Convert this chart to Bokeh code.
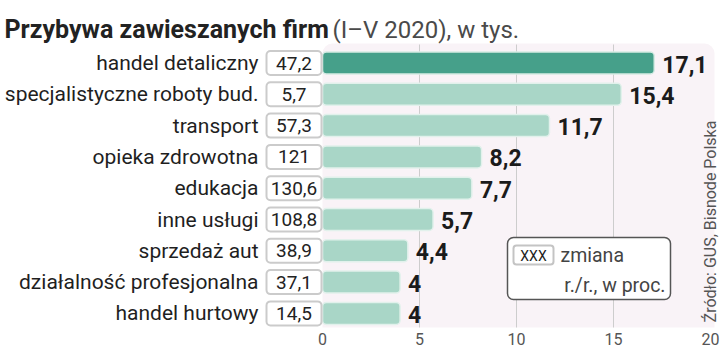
import math
from bokeh.plotting import figure
from bokeh.models import Range1d, FixedTicker
from bokeh.core.properties import value
from bokeh.embed import file_html
from bokeh.resources import INLINE

# ---- data ----
categories = ["handel detaliczny", "specjalistyczne roboty bud.", "transport",
              "opieka zdrowotna", "edukacja", "inne usługi", "sprzedaż aut",
              "działalność profesjonalna", "handel hurtowy"]
suspended_thousands = [17.1, 15.4, 11.7, 8.2, 7.7, 5.7, 4.4, 4, 4]
change_yoy_pct = [47.2, 5.7, 57.3, 121, 130.6, 108.8, 38.9, 37.1, 14.5]
tick_values = [0, 5, 10, 15, 20]
grid_values = [5, 10, 15]

title_bold = "Przybywa zawieszanych firm"
title_rest = "(I–V 2020), w tys."
source_text = "Źródło: GUS, Bisnode Polska"
legend_box_text = "XXX"
legend_line1 = "zmiana"
legend_line2 = "r./r., w proc."


def pl(v):
    return f"{v:g}".replace(".", ",")


# ---- geometry ----
W, H = 720, 360
PX_PER_UNIT = 19.4
ZERO_PX = 322.0
ROW_PX = 31.3
ROW0_PX = 62.5
FRAME_H = 327.0
AXIS_H = H - FRAME_H

x_start = -ZERO_PX / PX_PER_UNIT
x_end = x_start + W / PX_PER_UNIT
y_top = -ROW0_PX / ROW_PX
y_bottom = y_top + FRAME_H / ROW_PX


def ux(px):
    return x_start + px / PX_PER_UNIT


def uy(py):
    return y_top + py / ROW_PX


FONT = value("Roboto")

p = figure(width=W, height=H, x_range=Range1d(x_start, x_end),
           y_range=Range1d(y_bottom, y_top), output_backend="svg",
           toolbar_location=None, y_axis_location=None,
           min_border_left=0, min_border_right=0, min_border_top=0,
           min_border_bottom=int(AXIS_H),
           outline_line_color=None, background_fill_color="white",
           border_fill_color="white")
p.grid.visible = False

rows = list(range(len(categories)))

# plot-area background
p.quad(left=[tick_values[0]], right=[ux(714)], top=[uy(43)], bottom=[uy(345)],
       fill_color="#f9f3f7", line_color=None, border_radius=10)

# gridlines
p.segment(x0=grid_values, x1=grid_values, y0=uy(44), y1=uy(330),
          line_color="#cdcdcd", line_width=1)

# bars
bar_colors = ["#46a08a"] + ["#a9d6c7"] * (len(rows) - 1)
bar_lines = ["#d6ebe4"] + ["#e2f1ec"] * (len(rows) - 1)
p.hbar(y=rows, left=0, right=suspended_thousands, height=22 / ROW_PX,
       fill_color=bar_colors, line_color=bar_lines, line_width=1.5,
       border_radius=4)

# bar value labels
p.text(x=suspended_thousands, y=rows, text=[pl(v) for v in suspended_thousands],
       x_offset=8, y_offset=1, text_baseline="middle", text_align="left",
       text_font=FONT, text_font_style="bold", text_font_size="23px",
       text_color="#1b1b1b")

# yoy change boxes
half = 12 / ROW_PX
p.quad(left=ux(266), right=ux(321), top=[r - half for r in rows],
       bottom=[r + half for r in rows], fill_color="white",
       line_color="#cbcbcb", line_width=2, border_radius=4)
p.text(x=ux(293.5), y=rows, text=[pl(v) for v in change_yoy_pct],
       text_align="center", text_baseline="middle", text_font=FONT,
       text_font_size="19px", text_color="#222222")

# category labels
p.text(x=ux(258), y=rows, text=categories, text_align="right",
       text_baseline="middle", text_font=FONT, text_font_size="21px",
       text_color="#1f1f1f")

# title
p.text(x=[ux(4)], y=[uy(29)], text=[title_bold], text_align="left",
       text_baseline="alphabetic", text_font=FONT, text_font_style="bold",
       text_font_size="25px", text_color="#222222")
p.text(x=[ux(332)], y=[uy(29)], text=[title_rest], text_align="left",
       text_baseline="alphabetic", text_font=FONT, text_font_size="24px",
       text_color="#4a4a4a")

# legend
p.quad(left=[ux(507)], right=[ux(670)], top=[uy(237)], bottom=[uy(299)],
       fill_color="white", line_color="#555555", line_width=1.5,
       border_radius=6)
p.quad(left=[ux(513)], right=[ux(553)], top=[uy(245)], bottom=[uy(264)],
       fill_color="white", line_color="#c4c4c4", line_width=2,
       border_radius=3)
p.text(x=[ux(533)], y=[uy(255)], text=[legend_box_text], text_align="center",
       text_baseline="middle", text_font=FONT, text_font_size="14px",
       text_color="#222222")
p.text(x=[ux(560)], y=[uy(255)], text=[legend_line1], text_align="left",
       text_baseline="middle", text_font=FONT, text_font_size="19.5px",
       text_color="#444444")
p.text(x=[ux(665)], y=[uy(285)], text=[legend_line2], text_align="right",
       text_baseline="middle", text_font=FONT, text_font_size="19.5px",
       text_color="#444444")

# source
p.text(x=[ux(709.5)], y=[uy(221)], text=[source_text], angle=math.pi / 2,
       text_align="center", text_baseline="middle", text_font=FONT,
       text_font_size="16px", text_color="#555555")

# x axis
ax = p.xaxis[0]
ax.ticker = FixedTicker(ticks=tick_values)
ax.axis_line_color = None
ax.major_tick_line_color = None
ax.minor_tick_line_color = None
ax.major_tick_out = 0
ax.major_label_text_font = "Roboto"
ax.major_label_text_font_size = "16px"
ax.major_label_text_color = "#555555"
ax.major_label_standoff = 5

open("out.html", "w").write(file_html(p, INLINE))
